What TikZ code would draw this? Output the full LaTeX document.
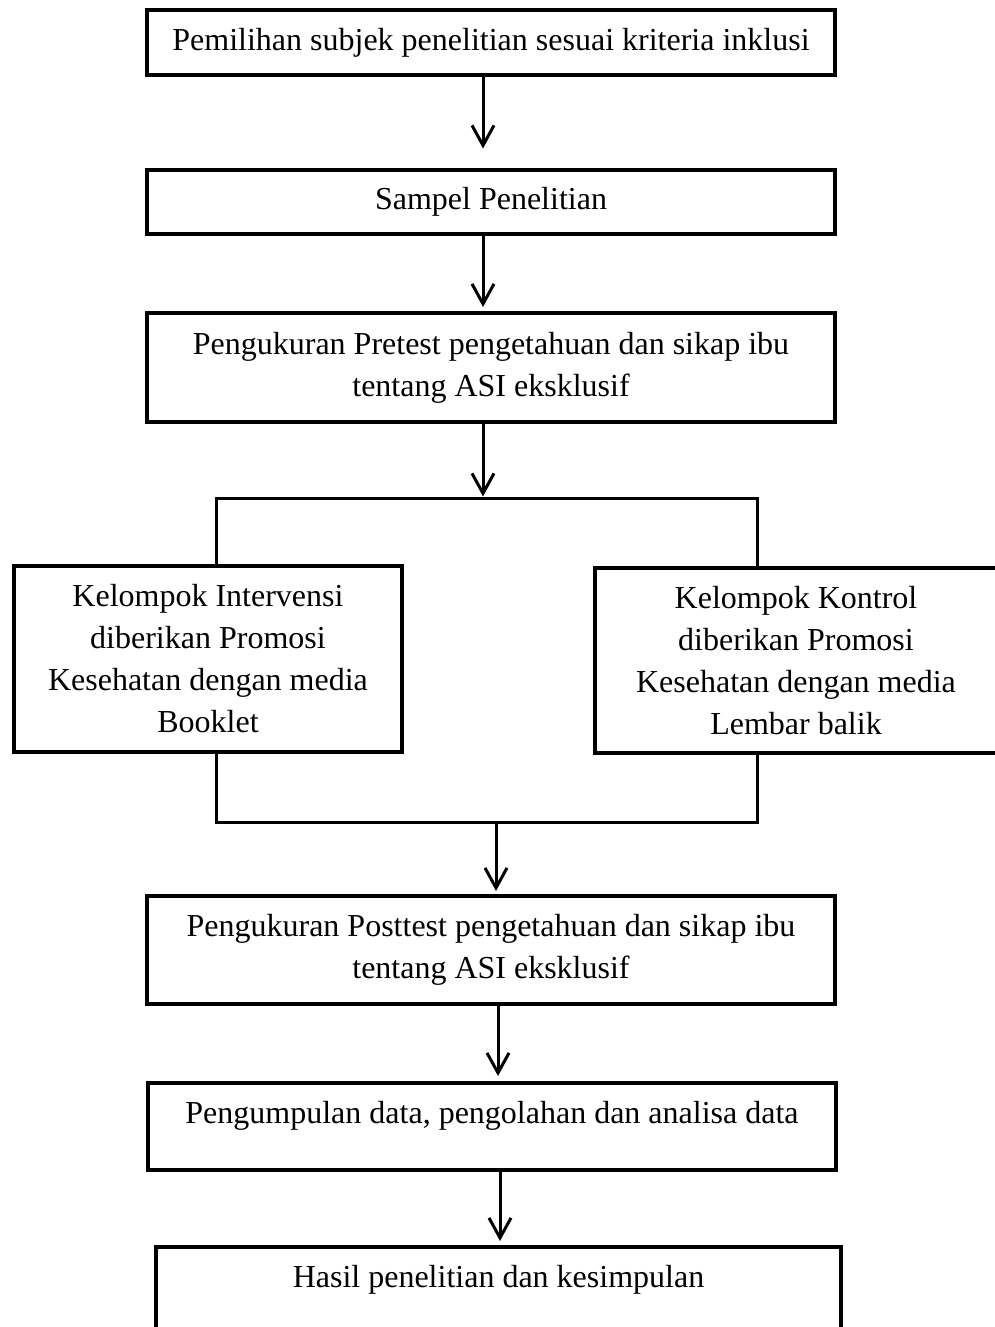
\documentclass[tikz,border=0pt]{standalone}
\usepackage{fontspec}
\setmainfont{Liberation Serif}
\usetikzlibrary{arrows.meta}
\begin{document}
\begin{tikzpicture}[x=1pt,y=-1pt,
  box/.style={draw, line width=4pt, inner sep=0pt, align=center,
    font=\fontsize{32}{42}\selectfont},
  wide/.style={box, minimum width=688pt},
  link/.style={line width=3pt},
  arr/.style={line width=3pt, -{Straight Barb[length=20pt,width=22pt,line width=3pt]}}
]
\useasboundingbox (0,0) rectangle (995,1327);

\node[wide, minimum height=65pt] (b1) at (491,42.5) {Pemilihan subjek penelitian sesuai kriteria inklusi};
\node[wide, minimum height=64pt] (b2) at (491,201.5) {Sampel Penelitian};
\node[wide, minimum height=109pt] (b3) at (491,367.5) {Pengukuran Pretest pengetahuan dan sikap ibu\\tentang ASI eksklusif};
\node[box, minimum width=388pt, minimum height=186pt] (L) at (208,659) {Kelompok Intervensi\\diberikan Promosi\\Kesehatan dengan media\\Booklet};
\node[box, minimum width=402pt, minimum height=185pt] (R) at (796,660.5) {Kelompok Kontrol\\diberikan Promosi\\Kesehatan dengan media\\Lembar balik};
\node[wide, minimum height=108pt] (b4) at (491,950) {Pengukuran Posttest pengetahuan dan sikap ibu\\tentang ASI eksklusif};
\node[wide, minimum height=87pt, text height=22pt, text depth=29pt] (b5) at (492,1126.5) {Pengumpulan data, pengolahan dan analisa data};
\node[box, minimum width=685pt, minimum height=90pt, text height=22pt, text depth=32pt] (b6) at (498.5,1292) {Hasil penelitian dan kesimpulan};

\coordinate (c1) at (483,0);
\coordinate (c4) at (496,0);
\coordinate (c5) at (498,0);
\coordinate (c6) at (500,0);
\coordinate (sl) at (216,498);
\coordinate (sr) at (757,498);
\coordinate (jl) at (216,822);
\coordinate (jr) at (757,822);

\draw[arr, shorten >=19pt] (c1 |- b1.south) -- (c1 |- b2.north);
\draw[arr, shorten >=4pt] (c1 |- b2.south) -- (c1 |- b3.north);
\draw[arr, shorten >=1.5pt] (c1 |- b3.south) -- (c1 |- sl);
\draw[link] (sl |- L.north) -- (sl) -- (sr) -- (sr |- R.north);
\draw[link] (jl |- L.south) -- (jl) -- (jr) -- (jr |- R.south);
\draw[arr, shorten >=3pt] (c4 |- jl) -- (c4 |- b4.north);
\draw[arr, shorten >=5pt] (c5 |- b4.south) -- (c5 |- b5.north);
\draw[arr, shorten >=4pt] (c6 |- b5.south) -- (c6 |- b6.north);
\end{tikzpicture}
\end{document}
